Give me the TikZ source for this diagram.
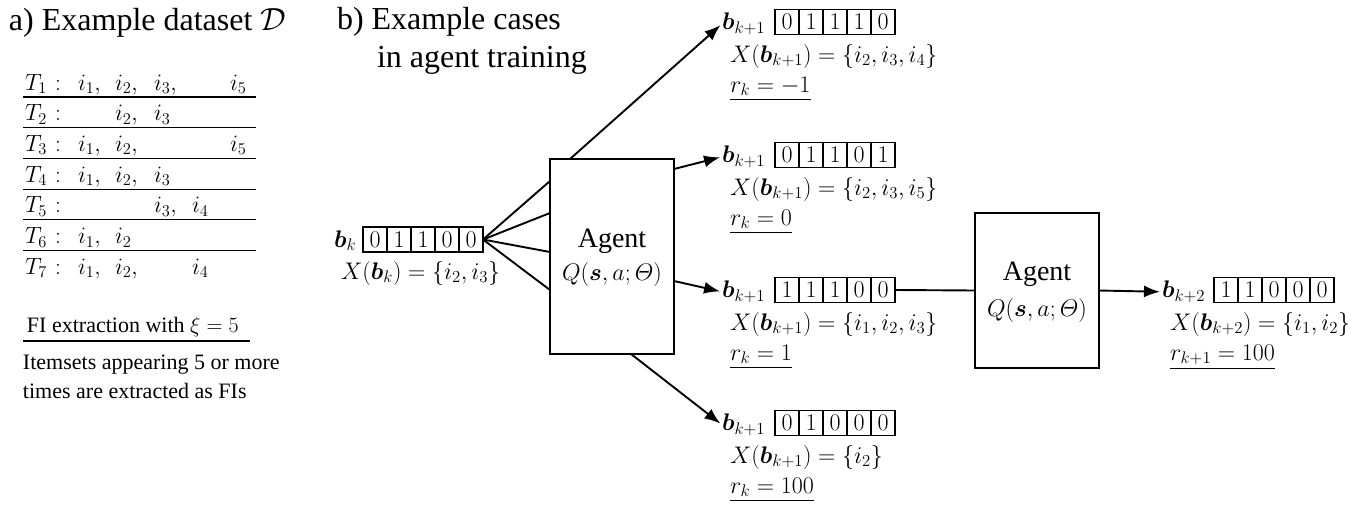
\RequirePackage{fix-cm}
\documentclass[tikz,border=0pt]{standalone}
\usepackage{amsmath}
\usepackage{bm}
\usepackage{fontspec}
\setmainfont{Liberation Serif}
\usetikzlibrary{arrows.meta,calc}
\tikzset{
  every node/.style={inner sep=0pt, outer sep=0pt},
  mth/.style={font=\fontsize{24}{28}\selectfont, anchor=base west},
  tmth/.style={font=\fontsize{23.5}{28}\selectfont, anchor=base west},
  ttl/.style={font=\fontsize{32}{38}\selectfont, anchor=base west},
  txt/.style={font=\fontsize{22}{26}\selectfont, anchor=base west},
  agtxt/.style={font=\fontsize{28}{32}\selectfont, anchor=base},
  cell/.style={draw, line width=1.1pt, minimum width=24pt, minimum height=25pt, font=\fontsize{24}{28}\selectfont},
  agentbox/.style={draw, line width=1.9pt, minimum width=124pt},
  conn/.style={line width=1.9pt},
  arr/.style={conn, -{Latex[length=16pt,width=12pt]}, shorten >=2pt},
  sepline/.style={line width=1.2pt},
}
\newcommand\bitrow[4]{\foreach \d [count=\i] in {#4} {\node[cell] (#1-\i) at ({#2+24*\i-12},#3) {$\d$};}}
\begin{document}
\begin{tikzpicture}[x=1pt,y=-1pt]
\useasboundingbox (0,0) rectangle (1365,506);
% ---------- a) ----------
\node[ttl, inner sep=1pt] (ta) at (8,30) {a) Example dataset $\mathcal{D}\,$};
% table rows
\node[tmth] (T1) at (25,90) {$T_1$};  \node[tmth] (C1) at (55,90) {$:$};
\node[tmth] (T1a) at (78,90) {$i_1,$}; \node[tmth] (T1b) at (115,90) {$i_2,$}; \node[tmth] (T1c) at (154,90) {$i_3,$}; \node[tmth] (T1e) at (230,90) {$i_5$};
\node[tmth] (T2) at (25,120.7) {$T_2$};  \node[tmth] (C2) at (55,120.7) {$:$};
\node[tmth] (T2b) at (115,120.7) {$i_2,$}; \node[tmth] (T2c) at (154,120.7) {$i_3$};
\node[tmth] (T3) at (25,151.4) {$T_3$};  \node[tmth] (C3) at (55,151.4) {$:$};
\node[tmth] (T3a) at (78,151.4) {$i_1,$}; \node[tmth] (T3b) at (115,151.4) {$i_2,$}; \node[tmth] (T3e) at (230,151.4) {$i_5$};
\node[tmth] (T4) at (25,182.1) {$T_4$};  \node[tmth] (C4) at (55,182.1) {$:$};
\node[tmth] (T4a) at (78,182.1) {$i_1,$}; \node[tmth] (T4b) at (115,182.1) {$i_2,$}; \node[tmth] (T4c) at (154,182.1) {$i_3$};
\node[tmth] (T5) at (25,212.8) {$T_5$};  \node[tmth] (C5) at (55,212.8) {$:$};
\node[tmth] (T5c) at (154,212.8) {$i_3,$}; \node[tmth] (T5d) at (192,212.8) {$i_4$};
\node[tmth] (T6) at (25,243.5) {$T_6$};  \node[tmth] (C6) at (55,243.5) {$:$};
\node[tmth] (T6a) at (78,243.5) {$i_1,$}; \node[tmth] (T6b) at (115,243.5) {$i_2$};
\node[tmth] (T7) at (25,274.2) {$T_7$};  \node[tmth] (C7) at (55,274.2) {$:$};
\node[tmth] (T7a) at (78,274.2) {$i_1,$}; \node[tmth] (T7b) at (115,274.2) {$i_2,$}; \node[tmth] (T7d) at (192,274.2) {$i_4$};
\foreach \yy in {97,127.7,158.4,189.1,219.8,250.5} \draw[sepline] (23,\yy) -- (256,\yy);
% FI extraction
\node[txt] (fi) at (27,332) {FI extraction with $\xi = 5$};
\draw[sepline] (23,341) -- (250,341);
\node[txt] (fi2) at (23,369) {Itemsets appearing 5 or more};
\node[txt] (fi3) at (23,398) {times are extracted as FIs};
% ---------- b) ----------
\node[ttl] (tb1) at (337,29) {b) Example cases};
\node[ttl] (tb2) at (377,67) {in agent training};
% initial state
\bitrow{b0}{363}{239.5}{0,1,1,0,0}
\node[mth] (lb0) at (334,247.2) {$\bm{b}_k$};
\node[mth] (x0) at (341,279) {$X(\bm{b}_k) = \{i_2, i_3\}$};
% agent 1
\node[agentbox, minimum height=195pt] (agent1) at (612,256.5) {};
\node[agtxt] (ag1t) at (612,247) {Agent};
\node[mth, anchor=base] (ag1q) at (612,280) {$Q(\bm{s},a;\varTheta)$};
\coordinate (in1) at ($(agent1.north west)+(0,22)$);
\coordinate (in2) at ($(agent1.north west)+(0,54)$);
\coordinate (in3) at ($(agent1.north west)+(0,93)$);
\coordinate (in4) at ($(agent1.north west)+(0,131)$);
\foreach \c in {in1,in2,in3,in4} \draw[conn] (b0-5.east) -- (\c);
% next states
\bitrow{r1}{775}{22}{0,1,1,1,0}
\node[mth] (lb1) at (722,29.7) {$\bm{b}_{k+1}$};
\node[mth] (x1) at (730,62) {$X(\bm{b}_{k+1}) = \{i_2, i_3, i_4\}$};
\node[mth] (rw1) at (730,92) {$\underline{r_k = -1}$};
\bitrow{r2}{775}{155}{0,1,1,0,1}
\node[mth] (lb2) at (722,162.7) {$\bm{b}_{k+1}$};
\node[mth] (x2) at (730,195) {$X(\bm{b}_{k+1}) = \{i_2, i_3, i_5\}$};
\node[mth] (rw2) at (730,225) {$\underline{r_k = 0}$};
\bitrow{r3}{775}{290}{1,1,1,0,0}
\node[mth] (lb3) at (722,297.7) {$\bm{b}_{k+1}$};
\node[mth] (x3) at (730,330) {$X(\bm{b}_{k+1}) = \{i_1, i_2, i_3\}$};
\node[mth] (rw3) at (730,360) {$\underline{r_k = 1}$};
\bitrow{r4}{775}{423}{0,1,0,0,0}
\node[mth] (lb4) at (722,430.7) {$\bm{b}_{k+1}$};
\node[mth] (x4) at (730,463) {$X(\bm{b}_{k+1}) = \{i_2\}$};
\node[mth] (rw4) at (730,493) {$\underline{r_k = 100}$};
\coordinate (out1) at ($(agent1.north west)+(20,0)$);
\coordinate (out2) at ($(agent1.north east)+(0,10)$);
\coordinate (out3) at ($(agent1.north east)+(0,122)$);
\coordinate (out4) at ($(agent1.south west)+(81,0)$);
\draw[arr] (out1) -- (lb1.west);
\draw[arr] (out2) -- (lb2.west);
\draw[arr] (out3) -- (lb3.west);
\draw[arr] (out4) -- (lb4.west);
% agent 2
\node[agentbox, minimum height=155pt] (agent2) at (1037,290.5) {};
\node[agtxt] (ag2t) at (1037,280) {Agent};
\node[mth, anchor=base] (ag2q) at (1037,316) {$Q(\bm{s},a;\varTheta)$};
\draw[conn] (r3-5.east) -- (agent2.west);
\bitrow{r5}{1214}{290}{1,1,0,0,0}
\node[mth] (lb5) at (1162,297.7) {$\bm{b}_{k+2}$};
\node[mth] (x5) at (1170,330) {$X(\bm{b}_{k+2}) = \{i_1, i_2\}$};
\node[mth] (rw5) at (1170,360) {$\underline{r_{k+1} = 100}$};
\draw[arr] (agent2.east) -- (lb5.west);
\end{tikzpicture}
\end{document}
